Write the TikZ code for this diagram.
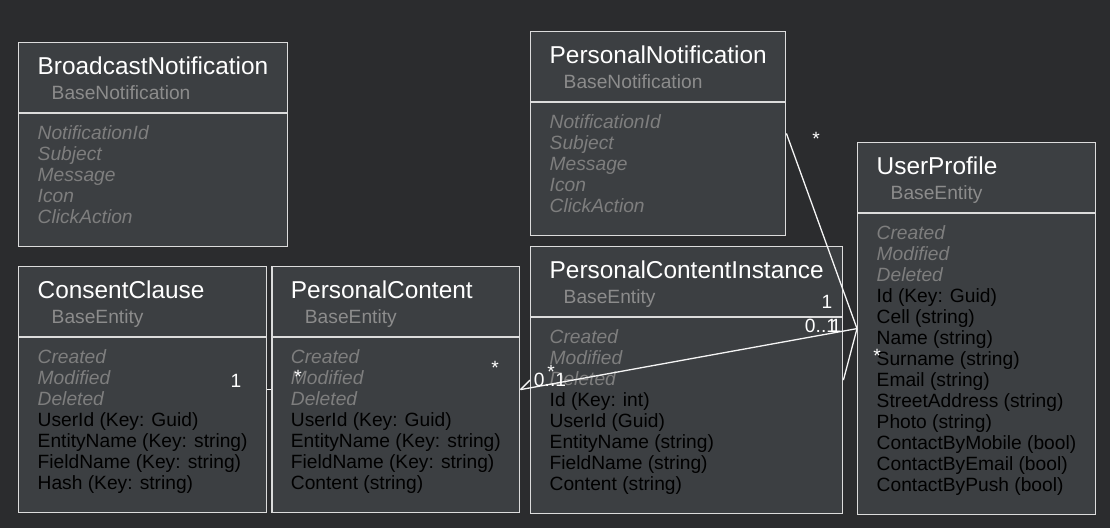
\documentclass[tikz,border=0pt]{standalone}
\usepackage{fontspec}
\setmainfont{Liberation Sans}
\usetikzlibrary{shapes.multipart, positioning}
\definecolor{bgc}{HTML}{2B2C2E}
\definecolor{boxc}{HTML}{3C3F42}
\definecolor{linec}{HTML}{DCDCDC}
\definecolor{basec}{HTML}{8C8C8C}
\definecolor{inhc}{HTML}{7E7E7E}
\newcommand*{\cname}[1]{\rule{0pt}{31pt}{\fontsize{24.4}{26}\selectfont #1}}
\newcommand*{\cbase}[1]{\hspace*{14pt}\textcolor{basec}{#1}\rule[-13pt]{0pt}{13pt}}
\newcommand*{\inh}[1]{\textcolor{inhc}{\itshape #1}}
\newcommand*{\topgap}{\rule{0pt}{26pt}}
\newcommand*{\botgap}{\rule[-22pt]{0pt}{22pt}}

\begin{document}
\begin{tikzpicture}[x=1pt,y=-1pt,
      umlclass/.style={rectangle split, rectangle split parts=2, rectangle split part align={left},
        draw=linec, fill=boxc, line width=1.4pt, inner xsep=19pt, inner ysep=0pt, align=left,
        anchor=north west, text=white, font=\fontsize{19.2}{21}\selectfont},
      assoc/.style={draw=white!92!gray, line width=1.3pt},
      mult/.style={text=white, inner sep=0pt, font=\fontsize{19.2}{21}\selectfont}]
      \path[use as bounding box, fill=bgc] (0,0) rectangle (1110,528);
      \node[umlclass] (bn) at (18,42) {\cname{BroadcastNotification}\\[4pt]\cbase{BaseNotification}
        \nodepart{two}\topgap\inh{NotificationId}\\\inh{Subject}\\\inh{Message}\\\inh{Icon}\\\inh{ClickAction}\botgap};
      \node[umlclass] (cc) at (18,266) {\cname{ConsentClause}\\[4pt]\cbase{BaseEntity}
        \nodepart{two}\topgap\inh{Created}\\\inh{Modified}\\\inh{Deleted}\\UserId (Key: Guid)\\EntityName (Key: string)\\FieldName (Key: string)\\Hash (Key: string)\botgap};
      \node[umlclass] (pc) [right=4pt of cc] {\cname{PersonalContent}\\[4pt]\cbase{BaseEntity}
        \nodepart{two}\topgap\inh{Created}\\\inh{Modified}\\\inh{Deleted}\\UserId (Key: Guid)\\EntityName (Key: string)\\FieldName (Key: string)\\Content (string)\botgap};
      \node[umlclass] (pci) at (530,246) {\cname{PersonalContentInstance}\\[4pt]\cbase{BaseEntity}
        \nodepart{two}\topgap\inh{Created}\\\inh{Modified}\\\inh{Deleted}\\Id (Key: int)\\UserId (Guid)\\EntityName (string)\\FieldName (string)\\Content (string)\botgap};
      \node[umlclass] (pn) [above=10pt of pci.north west, anchor=south west] {\cname{PersonalNotification}\\[4pt]\cbase{BaseNotification}
        \nodepart{two}\topgap\inh{NotificationId}\\\inh{Subject}\\\inh{Message}\\\inh{Icon}\\\inh{ClickAction}\botgap};
      \node[umlclass] (up) at (857,142) {\cname{UserProfile}\\[4pt]\cbase{BaseEntity}
        \nodepart{two}\topgap\inh{Created}\\\inh{Modified}\\\inh{Deleted}\\Id (Key: Guid)\\Cell (string)\\Name (string)\\Surname (string)\\Email (string)\\StreetAddress (string)\\Photo (string)\\ContactByMobile (bool)\\ContactByEmail (bool)\\ContactByPush (bool)\botgap};
      \path[assoc] (cc.east) -- (pc.west);
      \path[assoc] (pc.east) -- (pci.west);
      \path[assoc] (pc.east) -- (up.west);
      \path[assoc] (pci.east) -- (up.west);
      \path[assoc] (pn.east) -- (up.west);
      \node[mult] (m1) at (236,381) {1};
      \node[mult] (m2) at (298,377) {*};
      \node[mult] (m3) at (495,368) {*};
      \node[mult] (m4) at (550,380) {0..1};
      \node[mult] (m5) at (551,372) {*};
      \node[mult] (m6) at (827,302) {1};
      \node[mult] (m7) at (821,326) {0..1};
      \node[mult] (m8) at (836,326) {1};
      \node[mult] (m9) at (816,139) {*};
      \node[mult] (m10) at (877,356) {*};
    \end{tikzpicture}
\end{document}
